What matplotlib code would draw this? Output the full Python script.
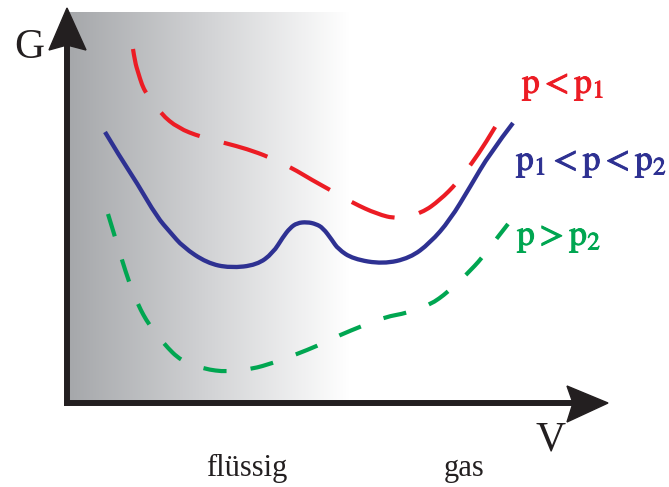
import matplotlib
matplotlib.use("Agg")
import matplotlib.pyplot as plt
import matplotlib.patheffects as pe
import numpy as np
from matplotlib.colors import LinearSegmentedColormap
from matplotlib.patches import Polygon, PathPatch
from matplotlib.path import Path

plt.rcParams["mathtext.fontset"] = "stix"

# ── curve data (V, G) in drawing units, origin at the axes corner ────────────
RED_V = [66, 68, 71, 75, 79, 94, 111, 134, 158, 180, 202, 225, 245, 265,
         286, 310, 330, 355, 373, 390, 405, 418, 430]
RED_G = [354, 341, 331, 318, 310, 289, 275, 266, 260, 254, 246, 235, 223, 212,
         200, 189, 184, 190, 203, 220, 240, 259, 279]

BLUE_V = [38, 53, 70, 90, 103, 116, 140, 163, 190, 206, 216, 223, 230, 240,
          249, 256, 265, 271, 286, 316, 343, 363, 383, 403, 423, 446]
BLUE_G = [271, 246, 220, 186, 171, 156, 140, 135, 138, 150, 166, 175, 180, 181,
          179, 175, 163, 154, 144, 139, 145, 160, 183, 216, 250, 280]

GREEN_V = [41, 48, 55, 62, 71, 82, 97, 114, 137, 160, 185, 206, 230, 250,
           273, 295, 318, 340, 363, 381, 400, 415, 430, 441]
GREEN_G = [189, 166, 143, 121, 98, 78, 59, 42, 34, 31, 34, 40, 49, 57,
           68, 77, 86, 90, 98, 111, 129, 145, 165, 179]

LABELS = [r"$\mathrm{p} < \mathrm{p}_1$",
          r"$\mathrm{p}_1 < \mathrm{p} < \mathrm{p}_2$",
          r"$\mathrm{p} > \mathrm{p}_2$"]
REGIONS = ["flüssig", "gas"]

RED = "#ec1c24"
BLUE = "#2e3192"
GREEN = "#00a651"
INK = "#231f20"


def smooth_path(xs, ys):
    """Quadratic Bezier path through the midpoints of the read points."""
    pts = np.column_stack([xs, ys]).astype(float)
    verts = [pts[0]]
    codes = [Path.MOVETO]
    for i in range(1, len(pts) - 1):
        end = pts[-1] if i == len(pts) - 2 else (pts[i] + pts[i + 1]) / 2
        verts += [pts[i], end]
        codes += [Path.CURVE3, Path.CURVE3]
    return Path(verts, codes)


fig = plt.figure(figsize=(6.69, 4.87), dpi=100)
ax = fig.add_axes([0, 0, 1, 1])
ax.set_xlim(-67, 602)
ax.set_ylim(-84, 403)
ax.axis("off")

# liquid region shading: grey fading to white
cmap = LinearSegmentedColormap.from_list("fade", ["#a5a7aa", "#d2d3d5", "#ffffff"])
ax.imshow(np.linspace(0, 1, 256).reshape(1, -1), cmap=cmap, aspect="auto",
          extent=[0, 283, 0, 391], zorder=0)

# axes with arrow heads
ax.plot([0, 0], [-3, 365], color=INK, lw=4.3, solid_capstyle="butt", zorder=3)
ax.plot([-3, 515], [0, 0], color=INK, lw=4.3, solid_capstyle="butt", zorder=3)
ax.add_patch(Polygon([[0, 395], [-18, 353], [0, 358], [19, 353]],
                     closed=True, color=INK, zorder=4))
ax.add_patch(Polygon([[541, 0], [500, 17], [506, 0], [500, -19]],
                     closed=True, color=INK, zorder=4))

# curves
ax.add_patch(PathPatch(smooth_path(RED_V, RED_G), fill=False, edgecolor=RED,
                       lw=3.0, linestyle=(0, (11.0, 6.0)), capstyle="butt", zorder=2))
ax.add_patch(PathPatch(smooth_path(BLUE_V, BLUE_G), fill=False, edgecolor=BLUE,
                       lw=3.1, zorder=2))
ax.add_patch(PathPatch(smooth_path(GREEN_V, GREEN_G), fill=False, edgecolor=GREEN,
                       lw=3.0, linestyle=(0, (5.6, 5.8)), capstyle="butt", zorder=2))

# labels
serif = "Liberation Serif"
ax.text(-38, 355, "G", family=serif, fontsize=30, ha="center", va="center", color=INK)
ax.text(484, -37, "V", family=serif, fontsize=30, ha="center", va="center", color=INK)
ax.text(180, -73, REGIONS[0], family=serif, fontsize=22, ha="center", va="baseline", color=INK)
ax.text(397, -73, REGIONS[1], family=serif, fontsize=22, ha="center", va="baseline", color=INK)

for label, color, (lx, ly) in zip(LABELS, [RED, BLUE, GREEN],
                                  [(455, 310), (449, 233), (450, 158)]):
    ax.text(lx, ly, label, fontsize=25.5, color=color, ha="left", va="baseline",
            path_effects=[pe.withStroke(linewidth=0.7, foreground=color)])

fig.savefig("out.png", dpi=100)
